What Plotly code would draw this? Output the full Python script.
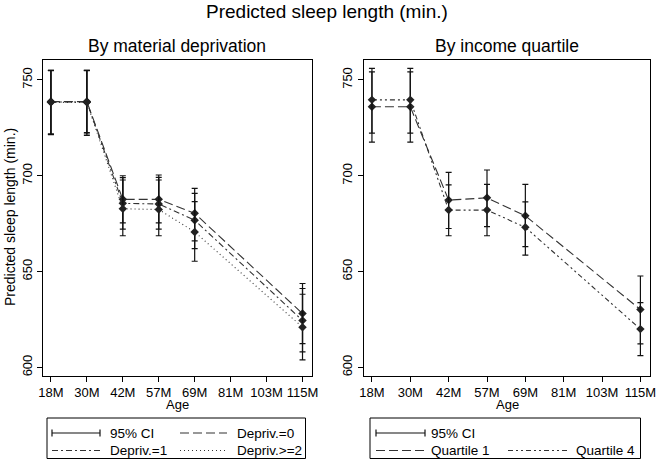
import plotly.graph_objects as go

# ---------------- data ----------------
age_ticks = ['18M', '30M', '42M', '57M', '69M', '81M', '103M', '115M']
obs_ages = ['18M', '30M', '42M', '57M', '69M', '115M']

dep0_mean = [738.7, 738.7, 687.7, 687.7, 680.4, 628.1]
dep0_lo = [721.8, 722.5, 675.4, 675.4, 666.0, 612.4]
dep0_hi = [755.0, 755.0, 700.0, 700.4, 693.4, 643.8]

dep1_mean = [738.5, 738.5, 685.6, 685.3, 676.8, 624.5]
dep1_lo = [721.5, 721.0, 672.2, 672.2, 662.0, 608.1]
dep1_hi = [754.8, 754.8, 699.0, 699.2, 690.8, 641.2]

dep2_mean = [738.3, 738.3, 682.8, 682.4, 670.7, 621.0]
dep2_lo = [721.8, 721.8, 668.7, 668.7, 655.4, 604.0]
dep2_hi = [755.0, 755.0, 697.8, 697.8, 686.5, 638.2]

q1_mean = [736.0, 736.0, 687.3, 688.5, 679.1, 630.2]
q1_lo = [717.6, 717.6, 672.5, 673.5, 663.0, 612.3]
q1_hi = [754.2, 754.2, 701.8, 703.0, 695.5, 647.7]

q4_mean = [739.6, 739.6, 682.1, 682.1, 673.1, 620.0]
q4_lo = [722.2, 722.2, 668.7, 668.7, 658.6, 606.2]
q4_hi = [756.0, 756.0, 695.2, 695.5, 686.4, 633.8]

y_ticks = [600, 650, 700, 750]

W, H = 660, 467
FONT = "Liberation Sans, Arial, sans-serif"
LINE_COL = '#333333'


def px(x):
    return x / W


def py(y):
    return 1 - y / H


fig = go.Figure()

DASH_LONG = '9px,4px'
DASH_DOT = '6px,3px,2px,3px'
DASH_DOTTED = '1px,3px'
DASH_DDOT = '5px,3px,2px,3px,2px,3px'


def add_series(xaxis, yaxis, mean, lo, hi, dash, name):
    fig.add_trace(go.Scatter(
        x=obs_ages, y=mean, mode='lines+markers', name=name,
        xaxis=xaxis, yaxis=yaxis, showlegend=False,
        line=dict(color=LINE_COL, width=1.1, dash=dash),
        marker=dict(symbol='diamond', size=6.5, color='#222222'),
        error_y=dict(type='data', symmetric=False,
                     array=[h - m for h, m in zip(hi, mean)],
                     arrayminus=[m - l for m, l in zip(mean, lo)],
                     color='#111111', thickness=1.2, width=3),
    ))


add_series('x', 'y', dep0_mean, dep0_lo, dep0_hi, DASH_LONG, 'Depriv.=0')
add_series('x', 'y', dep1_mean, dep1_lo, dep1_hi, DASH_DOT, 'Depriv.=1')
add_series('x', 'y', dep2_mean, dep2_lo, dep2_hi, DASH_DOTTED, 'Depriv.>=2')
add_series('x2', 'y2', q1_mean, q1_lo, q1_hi, DASH_LONG, 'Quartile 1')
add_series('x2', 'y2', q4_mean, q4_lo, q4_hi, DASH_DDOT, 'Quartile 4')

ydom = [py(375.5), py(60)]
xaxis_common = dict(
    type='category', categoryorder='array', categoryarray=age_ticks,
    tickvals=age_ticks, range=[-0.22, 7.25], automargin=False,
    showline=True, linecolor='black', linewidth=1, mirror=True,
    ticks='outside', ticklen=5, tickcolor='black', tickwidth=1,
    showgrid=False, zeroline=False,
    tickfont=dict(family=FONT, size=13, color='black'),
)
yaxis_common = dict(
    range=[595.8, 760.4], tickvals=y_ticks, tickangle=-90, automargin=False,
    showline=True, linecolor='black', linewidth=1, mirror=True,
    ticks='outside', ticklen=5, tickcolor='black', tickwidth=1,
    showgrid=False, zeroline=False,
    tickfont=dict(family=FONT, size=13, color='black'),
)

fig.update_layout(
    template='none',
    width=W, height=H,
    margin=dict(l=0, r=0, t=0, b=0, pad=0, autoexpand=False),
    paper_bgcolor='white', plot_bgcolor='white',
    font=dict(family=FONT, color='black'),
    xaxis=dict(domain=[px(43), px(311.5)], anchor='y', **xaxis_common),
    yaxis=dict(domain=ydom, anchor='x', **yaxis_common),
    xaxis2=dict(domain=[px(363.5), px(650)], anchor='y2', **xaxis_common),
    yaxis2=dict(domain=ydom, anchor='x2', **yaxis_common),
)

annotations = []
shapes = []


def text(x, y, s, size, xanchor='center', angle=0):
    annotations.append(dict(
        x=px(x), y=py(y), xref='paper', yref='paper', text=s, showarrow=False,
        xanchor=xanchor, yanchor='middle', textangle=angle, borderpad=0,
        font=dict(family=FONT, size=size, color='black')))


text(327, 12, 'Predicted sleep length (min.)', 19)
text(177, 46, 'By material deprivation', 17.5)
text(507, 46, 'By income quartile', 17.5)
text(10, 217, 'Predicted sleep length (min.)', 14, angle=-90)
text(177, 404, 'Age', 13)
text(507, 404, 'Age', 13)


def line(x0, y0, x1, y1, dash='solid', width=1.1, color=LINE_COL):
    shapes.append(dict(type='line', xref='paper', yref='paper',
                       x0=px(x0), y0=py(y0), x1=px(x1), y1=py(y1),
                       line=dict(color=color, width=width, dash=dash)))


def ci_sample(x0, x1, y):
    line(x0, y, x1, y, color='#111111', width=1.2)
    line(x0, y - 3.5, x0, y + 3.5, color='#111111', width=1.2)
    line(x1, y - 3.5, x1, y + 3.5, color='#111111', width=1.2)


def box(x0, y0, x1, y1):
    shapes.append(dict(type='rect', xref='paper', yref='paper',
                       x0=px(x0), y0=py(y0), x1=px(x1), y1=py(y1),
                       line=dict(color='black', width=1), fillcolor='rgba(0,0,0,0)'))


LEG = 13.5
# left legend
box(47, 418, 305.5, 458.5)
ci_sample(52, 100, 433)
text(109, 433, '95% CI', LEG, xanchor='left')
line(180, 433, 227, 433, dash=DASH_LONG)
text(235.5, 433, 'Depriv.=0', LEG, xanchor='left')
line(52, 450.5, 100, 450.5, dash=DASH_DOT)
text(109, 450.5, 'Depriv.=1', LEG, xanchor='left')
line(180, 450.5, 227, 450.5, dash=DASH_DOTTED)
text(235.5, 450.5, 'Depriv.>=2', LEG, xanchor='left')

# right legend
box(370, 418, 640.5, 458.5)
ci_sample(376, 425, 433)
text(430.5, 433, '95% CI', LEG, xanchor='left')
line(376, 450.5, 425, 450.5, dash=DASH_LONG)
text(430.5, 450.5, 'Quartile 1', LEG, xanchor='left')
line(508, 450.5, 567, 450.5, dash=DASH_DDOT)
text(574.5, 450.5, 'Quartile 4', LEG, xanchor='left')

fig.update_layout(annotations=annotations, shapes=shapes)

fig.write_html("out.html",
               config={'displayModeBar': False},
               post_script="document.body.style.margin='0px';"
                           "document.body.style.overflow='hidden';")
